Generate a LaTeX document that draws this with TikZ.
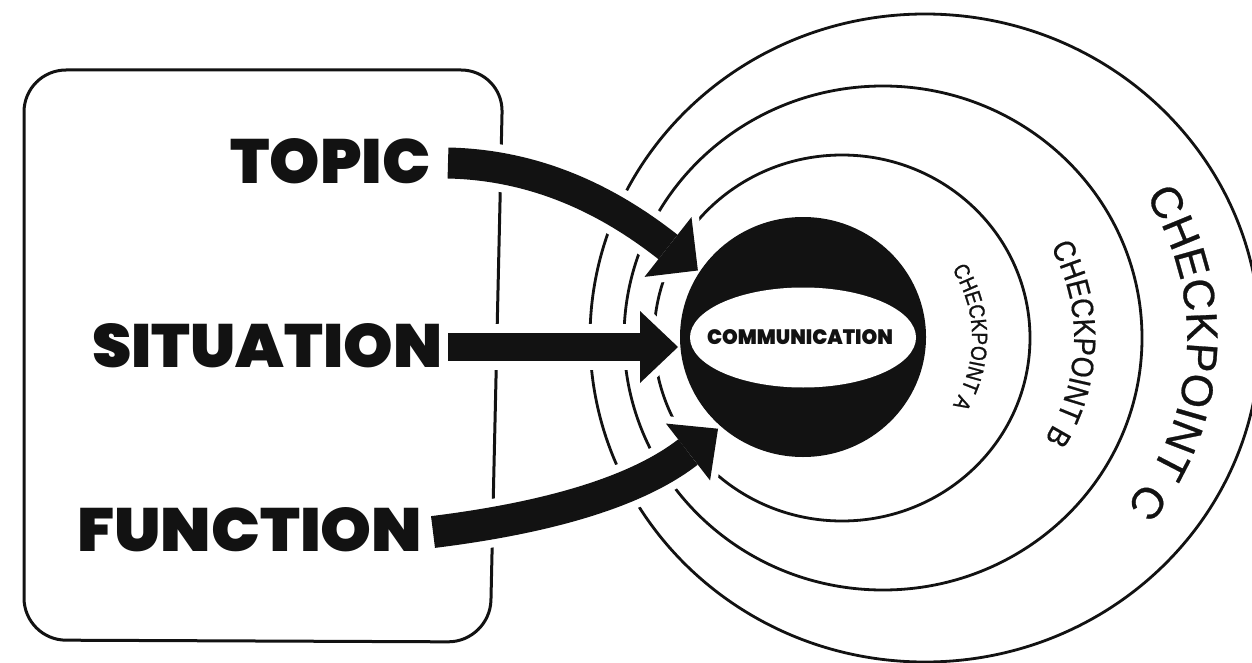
\documentclass[tikz,border=0pt]{standalone}
\usepackage{fontspec}
\usetikzlibrary{calc,decorations.text,shapes.geometric}
\newfontfamily\heavyfont{Poppins Black}
\newfontfamily\cpCfont[FakeBold=0.6]{Liberation Sans}
\newfontfamily\cpBfont[FakeStretch=0.87,FakeBold=0.6]{Liberation Sans}
\newfontfamily\cpAfont[FakeStretch=0.87,FakeBold=1]{Liberation Sans}
\definecolor{ink}{gray}{0.07}
\begin{document}
\begin{tikzpicture}[x=1pt,y=1pt,
  boxline/.style={draw=ink,line width=3pt,line join=round},
  ring/.style={draw=ink,line width=2.8pt},
  gapshaft/.style={draw=white,line width=#1,line cap=butt},
  gaphead/.style={draw=white,fill=white,line width=15pt,line join=round},
  inkshaft/.style={draw=ink,line width=#1,line cap=butt},
  inkhead/.style={fill=ink},
  biglabel/.style={inner sep=0pt,anchor=north west,text=ink},
  cptext/.style={decorate,decoration={text along path,text align=center,text={#1}}}
]
\useasboundingbox (0,0) rectangle (1252,-663);
\clip (0,0) rectangle (1252,-663);
\fill[white] (0,0) rectangle (1252,-663);

% rounded frame
\draw[boxline,rounded corners=42pt] (24,-350) -- (24,-70) -- (503,-70) -- (490,-642) -- (24,-640) -- cycle;

% checkpoint rings
\draw[ring] (842,-338) ellipse [x radius=188, y radius=183];
\draw[ring] (883,-338) ellipse [x radius=259, y radius=252];
\draw[ring] (925,-338) ellipse [x radius=335, y radius=324];

% arrow geometry
\coordinate (tS) at (448,-163);
\coordinate (tC1) at (540,-165);
\coordinate (tC2) at (612,-203);
\coordinate (tB) at (668,-247);
\coordinate (tT) at ($(tB)!-38pt!(tC2)$);
\coordinate (tL) at ($(tB)!38pt!90:(tC2)$);
\coordinate (tR) at ($(tB)!38pt!-90:(tC2)$);

\coordinate (sS) at (448,-347);
\coordinate (sC1) at (520,-347);
\coordinate (sC2) at (580,-347);
\coordinate (sB) at (640,-347);
\coordinate (sT) at ($(sB)!-38pt!(sC2)$);
\coordinate (sL) at ($(sB)!36pt!90:(sC2)$);
\coordinate (sR) at ($(sB)!36pt!-90:(sC2)$);

\coordinate (fS) at (433,-532);
\coordinate (fC1) at (530,-520);
\coordinate (fC2) at (630,-497);
\coordinate (fB) at (688,-452);
\coordinate (fT) at ($(fB)!-38pt!(fC2)$);
\coordinate (fL) at ($(fB)!36pt!90:(fC2)$);
\coordinate (fR) at ($(fB)!36pt!-90:(fC2)$);

% white gaps around arrows
\draw[gapshaft=47pt] (tS) .. controls (tC1) and (tC2) .. (tB);
\draw[gaphead] (tL) -- (tT) -- (tR) -- cycle;
\draw[gapshaft=46pt] (sS) .. controls (sC1) and (sC2) .. (sB);
\draw[gaphead] (sL) -- (sT) -- (sR) -- cycle;
\draw[gapshaft=48pt] (fS) .. controls (fC1) and (fC2) .. (fB);
\draw[gaphead] (fL) -- (fT) -- (fR) -- cycle;

% core
\node[ellipse,fill=ink,inner sep=0pt,minimum width=246pt,minimum height=240pt] (core) at (803,-337) {};
\node[ellipse,fill=white,inner sep=0pt,minimum width=226pt,minimum height=100pt] (hole) at (803,-337.5) {};
\node[inner sep=0pt,text=ink] (comm) at (800,-337.5) {\resizebox{186pt}{15pt}{\heavyfont COMMUNICATION}};

% arrows
\draw[inkshaft=31pt] (tS) .. controls (tC1) and (tC2) .. (tB);
\fill[inkhead] (tL) -- (tT) -- (tR) -- cycle;
\draw[inkshaft=28pt] (sS) .. controls (sC1) and (sC2) .. (sB);
\fill[inkhead] (sL) -- (sT) -- (sR) -- cycle;
\draw[inkshaft=32pt] (fS) .. controls (fC1) and (fC2) .. (fB);
\fill[inkhead] (fL) -- (fT) -- (fR) -- cycle;

% labels
\node[biglabel] (topic) at (230,-138) {\resizebox{200pt}{45pt}{\heavyfont TOPIC}};
\node[biglabel] (situation) at (92,-323) {\resizebox{350pt}{44pt}{\heavyfont SITUATION}};
\node[biglabel] (function) at (77,-507) {\resizebox{345pt}{44pt}{\heavyfont FUNCTION}};

% checkpoint labels
\path[cptext={|\color{ink}\cpCfont\fontsize{44pt}{44pt}\selectfont|CHECKPOINT C}]
  (925,-338) ++(56.5:262) arc[start angle=56.5, end angle=-63.5, radius=262];
\path[cptext={|\color{ink}\cpBfont\fontsize{31pt}{31pt}\selectfont|CHECKPOINT B}]
  (885,-338) ++(58.2:189) arc[start angle=58.2, end angle=-61.8, radius=189];
\path[cptext={|\color{ink}\cpAfont\fontsize{22pt}{22pt}\selectfont|CHECKPOINT A}]
  (845,-338) ++(60.4:127) arc[start angle=60.4, end angle=-59.6, radius=127];
\end{tikzpicture}
\end{document}
